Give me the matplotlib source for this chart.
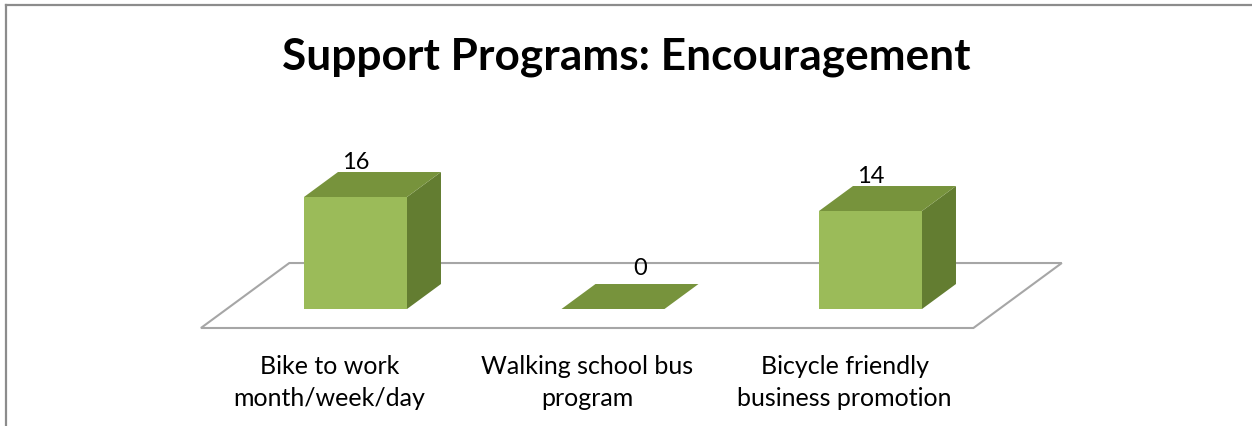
import matplotlib
matplotlib.use("Agg")
import matplotlib.pyplot as plt
from matplotlib.patches import Polygon
from matplotlib.lines import Line2D

# Chart data
categories = ["Bike to work\nmonth/week/day",
              "Walking school bus\nprogram",
              "Bicycle friendly\nbusiness promotion"]
values = [16, 0, 14]
title = "Support Programs: Encouragement"

# Oblique projection used for the 3-D look: one unit of depth moves a
# point right (in category units) and up (in value units).
DEPTH_X = 0.132
DEPTH_Y = 3.57
BAR_WIDTH = 0.4
FLOOR_FRONT = -0.76
FLOOR_BACK = 1.84

FRONT_COLOR = "#9bbb59"
TOP_COLOR = "#77933c"
SIDE_COLOR = "#637d31"
FLOOR_EDGE = "#a6a6a6"

FONT = "Lato"


def proj(x, y, z):
    return (x + z * DEPTH_X, y + z * DEPTH_Y)


W, H, DPI = 1252, 427, 100
fig = plt.figure(figsize=(W / DPI, H / DPI), dpi=DPI)

# Axes fills the figure; x is the category index, y the value
ax = fig.add_axes([0, 0, 1, 1])
px_per_cat = 257.5
px_per_val = 7.0
x0_px, y0_px = 355.5, 117.0
ax.set_xlim(-x0_px / px_per_cat, (W - x0_px) / px_per_cat)
ax.set_ylim(-y0_px / px_per_val, (H - y0_px) / px_per_val)
ax.axis("off")

# floor
n = len(values)
floor = [proj(-0.5, 0, FLOOR_FRONT), proj(n - 0.5, 0, FLOOR_FRONT),
         proj(n - 0.5, 0, FLOOR_BACK), proj(-0.5, 0, FLOOR_BACK)]
ax.add_patch(Polygon(floor, closed=True, facecolor="white",
                     edgecolor=FLOOR_EDGE, linewidth=1.5, zorder=1))

# bars
for i, v in enumerate(values):
    l, r = i - BAR_WIDTH / 2, i + BAR_WIDTH / 2
    side = [proj(r, 0, 0), proj(r, 0, 1), proj(r, v, 1), proj(r, v, 0)]
    top = [proj(l, v, 0), proj(r, v, 0), proj(r, v, 1), proj(l, v, 1)]
    front = [(l, 0), (r, 0), (r, v), (l, v)]
    ax.add_patch(Polygon(side, closed=True, facecolor=SIDE_COLOR,
                         edgecolor="none", zorder=2))
    ax.add_patch(Polygon(top, closed=True, facecolor=TOP_COLOR,
                         edgecolor="none", zorder=3))
    if v > 0:
        ax.add_patch(Polygon(front, closed=True, facecolor=FRONT_COLOR,
                             edgecolor="none", zorder=4))

    # value label sits above the back edge of the bar top
    if v > 0:
        lx, ly = i, v + DEPTH_Y
    else:
        lx, ly = i + 0.8 * DEPTH_X, v + DEPTH_Y + 0.9
    ax.text(lx, ly, str(v), ha="center", va="bottom", fontsize=17,
            family=FONT, color="black", zorder=5)

    # category label under the front edge of the floor
    cx, cy = proj(i, 0, FLOOR_FRONT)
    ax.text(cx, cy - 3.7, categories[i], ha="center", va="top",
            fontsize=18, family=FONT, color="black", linespacing=1.47,
            zorder=5)

# chart title
fig.text(0.5, 1 - 57 / H, title, ha="center", va="center",
         fontsize=31.8, fontweight="bold", family=FONT)

# chart area border (top and left edges)
fig.add_artist(Line2D([6 / W, 6 / W], [0, 1 - 6 / H],
                      transform=fig.transFigure, color="#8c8c8c", lw=1.6))
fig.add_artist(Line2D([6 / W, 1], [1 - 6 / H, 1 - 6 / H],
                      transform=fig.transFigure, color="#8c8c8c", lw=1.6))

fig.savefig("out.png", dpi=DPI)
